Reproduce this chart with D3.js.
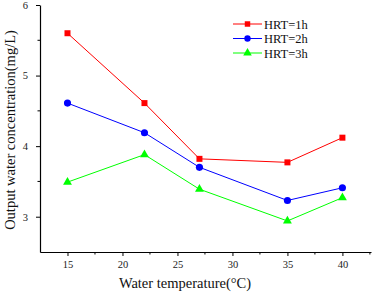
<!DOCTYPE html>
<html>
<head>
<meta charset="utf-8">
<script src="https://cdn.jsdelivr.net/npm/d3@7"></script>
<style>
  body { margin: 0; background: #fff; }
</style>
</head>
<body>
<script>
const width = 373;
const height = 294;
const margin = { left: 40, right: 2, top: 5, bottom: 42 };
const serif = "'Liberation Serif', 'Times New Roman', serif";

const temps = [15, 22, 27, 35, 40];
const hrt1 = [5.60, 4.61, 3.82, 3.77, 4.12];
const hrt2 = [4.61, 4.19, 3.70, 3.23, 3.41];
const hrt3 = [3.49, 3.88, 3.39, 2.94, 3.27];
const seriesNames = ["HRT=1h", "HRT=2h", "HRT=3h"];
const colors = ["#ff0000", "#0000ff", "#00ff00"];
const symbols = [d3.symbolSquare, d3.symbolCircle, d3.symbolTriangle];
const xTicks = [15, 20, 25, 30, 35, 40];
const yTicks = [3, 4, 5, 6];

const svg = d3.select("body")
  .append("svg")
  .attr("width", width)
  .attr("height", height)
  .attr("font-family", serif);

const x = d3.scaleLinear()
  .domain([12.5, 42.6])
  .range([margin.left, width - margin.right]);

const y = d3.scaleLinear()
  .domain([2.5, 6])
  .range([height - margin.bottom, margin.top]);

// x axis
const xAxis = svg.append("g")
  .attr("transform", `translate(0,${height - margin.bottom})`)
  .call(d3.axisBottom(x).tickValues(xTicks).tickSize(4).tickSizeOuter(0).tickPadding(5));
xAxis.append("g")
  .selectAll("line")
  .data([17.5, 22.5, 27.5, 32.5, 37.5, 42.5])
  .enter()
  .append("line")
  .attr("x1", d => x(d))
  .attr("x2", d => x(d))
  .attr("y1", 0)
  .attr("y2", 2.5)
  .attr("stroke", "black");

// y axis
const yAxis = svg.append("g")
  .attr("transform", `translate(${margin.left},0)`)
  .call(d3.axisLeft(y).tickValues(yTicks).tickFormat(d3.format("d")).tickSize(4).tickSizeOuter(0).tickPadding(8));
yAxis.append("g")
  .selectAll("line")
  .data([3.5, 4.5, 5.5])
  .enter()
  .append("line")
  .attr("x1", 0)
  .attr("x2", -2.5)
  .attr("y1", d => y(d))
  .attr("y2", d => y(d))
  .attr("stroke", "black");

svg.selectAll(".domain").attr("stroke-width", 1.2);
svg.selectAll("g").attr("font-family", serif);
svg.selectAll(".tick text")
  .attr("font-size", 10.5)
  .attr("fill", "#222");

// axis titles
svg.append("text")
  .attr("x", 185)
  .attr("y", 288)
  .attr("text-anchor", "middle")
  .attr("font-size", 14.5)
  .attr("fill", "#111")
  .text("Water temperature(°C)");

svg.append("text")
  .attr("transform", "translate(15,130) rotate(-90)")
  .attr("text-anchor", "middle")
  .attr("font-size", 14.5)
  .attr("fill", "#111")
  .text("Output water concentration(mg/L)");

// series
const allSeries = [hrt1, hrt2, hrt3];
const line = d3.line()
  .x((d, i) => x(temps[i]))
  .y(d => y(d));

allSeries.forEach((vals, s) => {
  svg.append("path")
    .datum(vals)
    .attr("fill", "none")
    .attr("stroke", colors[s])
    .attr("stroke-width", 1)
    .attr("d", line);

  svg.selectAll(".pt" + s)
    .data(vals)
    .enter()
    .append("path")
    .attr("class", "pt" + s)
    .attr("transform", (d, i) => `translate(${x(temps[i])},${y(d)})`)
    .attr("d", d3.symbol().type(symbols[s]).size(s === 0 ? 36 : s === 1 ? 40 : 34))
    .attr("fill", colors[s]);
});

// legend
const legend = svg.append("g");
seriesNames.forEach((name, s) => {
  const ly = 24 + s * 14.5;
  legend.append("line")
    .attr("x1", 233).attr("x2", 262)
    .attr("y1", ly).attr("y2", ly)
    .attr("stroke", colors[s]);
  legend.append("path")
    .attr("transform", `translate(247.5,${ly})`)
    .attr("d", d3.symbol().type(symbols[s]).size(s === 0 ? 30 : 32))
    .attr("fill", colors[s]);
  legend.append("text")
    .attr("x", 264)
    .attr("y", ly + 4.5)
    .attr("font-size", 12.5)
    .attr("fill", "#111")
    .text(name);
});
</script>
</body>
</html>
